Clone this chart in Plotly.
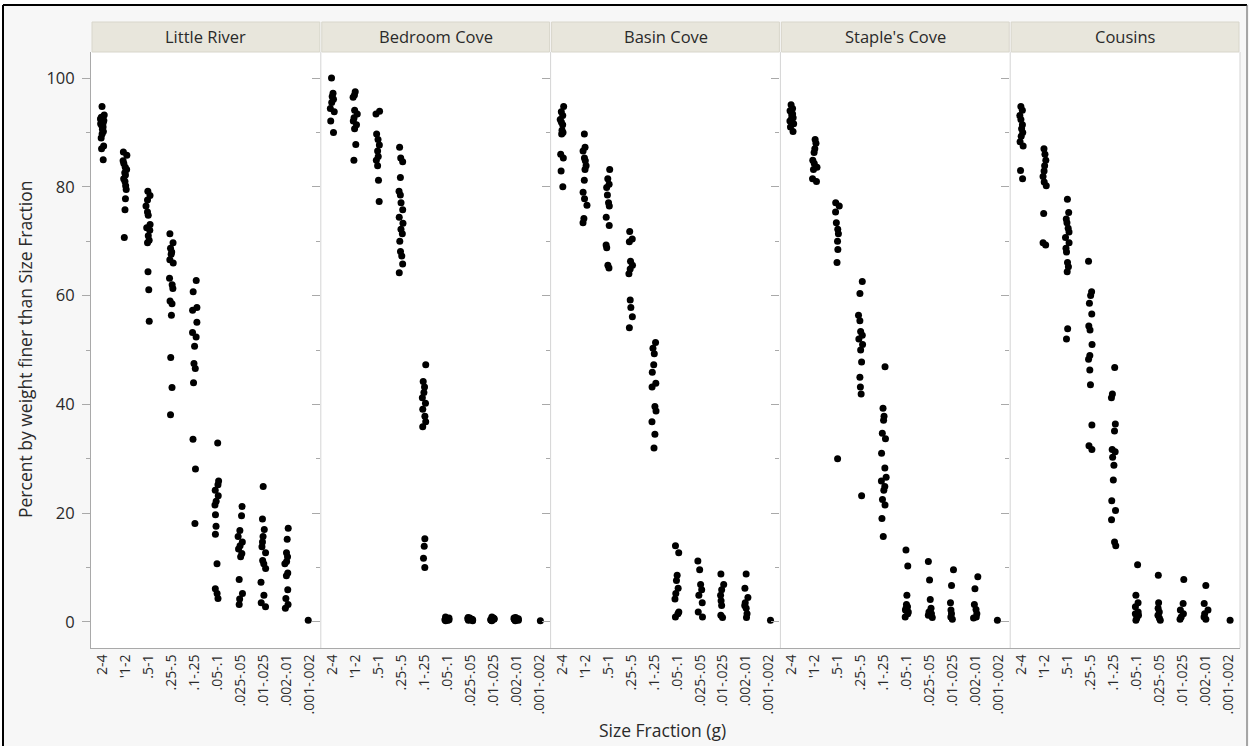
import plotly.graph_objects as go
from plotly.subplots import make_subplots

# ---------------- data ----------------
sites = ["Little River", "Bedroom Cove", "Basin Cove", "Staple's Cove", "Cousins"]
size_fractions = ["2-4", "'1-2", ".5-1", ".25-.5", ".1-.25", ".05-.1",
                  ".025-.05", ".01-.025", ".002-.01", ".001-.002"]

little_river = [
    [94.8, 93.2, 92.8, 92.5, 92.2, 91.9, 91.8, 91.6, 91.3, 91.0, 90.6, 90.2, 89.7, 89.0, 87.5, 87.0, 85.0],
    [86.4, 85.8, 84.8, 84.3, 83.6, 83.2, 82.6, 82.2, 81.5, 81.0, 80.2, 79.5, 77.8, 75.8, 70.7],
    [79.2, 78.4, 77.6, 76.5, 75.4, 74.8, 73.1, 72.5, 72.0, 71.0, 70.2, 69.7, 64.4, 61.1, 55.3],
    [71.4, 69.7, 68.7, 68.0, 67.6, 66.6, 66.0, 63.2, 62.0, 61.3, 59.0, 58.5, 56.4, 48.6, 43.1, 38.1],
    [62.8, 60.7, 57.8, 57.3, 55.1, 53.2, 52.4, 50.7, 47.5, 46.6, 44.0, 33.6, 28.1, 18.1],
    [32.9, 25.9, 25.2, 24.2, 23.2, 22.2, 21.5, 19.7, 17.6, 16.1, 10.7, 6.1, 5.2, 4.3],
    [21.2, 19.5, 16.8, 15.7, 14.7, 14.0, 13.4, 12.6, 12.0, 7.8, 5.2, 4.2, 3.2],
    [24.9, 18.9, 17.0, 15.7, 14.7, 13.8, 12.7, 11.3, 10.7, 9.8, 7.3, 4.9, 3.5, 2.8],
    [17.2, 15.2, 12.7, 12.0, 11.1, 10.7, 9.0, 8.5, 5.9, 4.3, 3.2, 2.5],
    [0.3],
]
bedroom_cove = [
    [100.0, 97.2, 96.6, 96.1, 95.5, 94.4, 93.8, 92.1, 90.0],
    [97.5, 96.9, 96.5, 94.1, 93.4, 92.7, 92.1, 91.4, 90.7, 87.8, 84.9],
    [93.9, 93.4, 89.7, 88.7, 87.7, 86.6, 85.6, 84.9, 83.9, 81.2, 77.3],
    [87.3, 85.3, 84.6, 81.7, 79.2, 78.5, 77.1, 75.8, 74.4, 73.3, 72.2, 71.4, 70.0, 68.1, 67.3, 65.8, 64.2],
    [47.3, 44.2, 43.2, 42.2, 41.2, 40.2, 39.1, 37.8, 36.8, 35.9, 15.3, 13.9, 11.7, 10.0],
    [0.9, 0.7, 0.6, 0.5, 0.4, 0.3, 0.5, 0.6, 0.2, 0.4],
    [0.8, 0.7, 0.6, 0.5, 0.4, 0.3, 0.5, 0.2, 0.6, 0.4],
    [0.9, 0.7, 0.6, 0.5, 0.4, 0.3, 0.5, 0.6, 0.2, 0.4],
    [0.8, 0.7, 0.6, 0.5, 0.4, 0.3, 0.5, 0.6, 0.2, 0.4],
    [0.2],
]
basin_cove = [
    [94.8, 93.8, 93.1, 92.4, 91.9, 91.4, 90.4, 90.0, 89.7, 86.0, 85.3, 82.9, 80.0],
    [89.7, 87.3, 86.6, 85.3, 84.8, 83.9, 83.2, 81.2, 79.0, 77.8, 76.6, 74.2, 73.4],
    [83.2, 81.5, 80.5, 79.9, 78.5, 77.1, 76.5, 74.4, 72.9, 69.3, 68.8, 65.6, 65.1],
    [71.8, 70.4, 69.9, 66.3, 65.6, 64.9, 64.0, 59.2, 57.8, 56.1, 54.1],
    [51.4, 50.3, 49.3, 47.3, 45.9, 43.9, 43.2, 39.6, 38.8, 36.8, 34.5, 32.0],
    [14.0, 12.7, 8.6, 7.6, 6.2, 5.2, 4.2, 1.8, 1.5, 0.9],
    [11.2, 9.6, 6.9, 5.9, 4.9, 3.5, 1.8, 0.9],
    [8.8, 6.9, 5.9, 4.9, 3.9, 3.0, 1.2, 0.8],
    [8.8, 6.2, 4.5, 3.5, 3.0, 2.5, 1.5, 0.8],
    [0.3],
]
staples_cove = [
    [95.1, 94.4, 94.0, 93.8, 93.4, 93.1, 92.7, 92.4, 92.1, 91.6, 91.0, 90.2],
    [88.7, 88.0, 87.0, 86.3, 84.9, 84.3, 83.6, 83.2, 81.5, 81.0],
    [77.1, 76.5, 75.4, 73.4, 72.2, 71.4, 70.0, 68.5, 66.1, 30.0],
    [62.6, 60.4, 56.4, 55.4, 53.4, 52.7, 52.0, 51.0, 50.0, 47.8, 45.0, 43.2, 41.9, 23.2],
    [46.9, 39.3, 37.8, 37.1, 34.7, 33.7, 31.0, 28.3, 26.6, 25.9, 24.9, 24.2, 22.5, 21.5, 19.0, 15.7],
    [13.2, 10.3, 4.9, 3.2, 2.8, 2.5, 2.2, 1.8, 1.5, 0.9],
    [11.1, 7.7, 4.1, 2.5, 1.8, 1.5, 1.2, 0.8],
    [9.6, 6.7, 3.5, 2.2, 1.5, 0.9, 0.5],
    [8.3, 6.1, 3.2, 2.3, 1.5, 0.9, 0.7],
    [0.3],
]
cousins = [
    [94.8, 94.1, 93.1, 92.4, 91.4, 90.7, 90.0, 89.3, 88.3, 87.5, 83.0, 81.5],
    [87.0, 86.0, 84.9, 83.9, 82.9, 81.9, 80.9, 80.2, 75.1, 69.7, 69.3],
    [77.7, 75.3, 74.1, 73.4, 72.4, 71.7, 70.7, 69.7, 68.7, 68.0, 66.1, 65.3, 64.4, 53.9, 52.0],
    [66.3, 60.7, 60.0, 58.6, 56.6, 54.4, 53.7, 51.0, 49.0, 48.3, 46.3, 43.6, 36.2, 32.4, 31.7],
    [46.8, 41.9, 41.2, 36.4, 35.1, 31.7, 31.3, 30.3, 28.8, 26.1, 22.3, 20.5, 18.8, 14.7, 14.0],
    [10.5, 4.9, 3.5, 2.8, 1.8, 1.5, 1.2, 0.7, 0.3],
    [8.6, 3.5, 2.5, 1.8, 1.2, 0.7, 0.3],
    [7.8, 3.4, 2.2, 1.5, 0.9, 0.5],
    [6.7, 3.4, 2.2, 1.5, 0.9, 0.5],
    [0.3],
]
site_data = [little_river, bedroom_cove, basin_cove, staples_cove, cousins]

y_title = "Percent by weight finer than Size Fraction"
x_title = "Size Fraction (g)"
y_ticks = [0, 20, 40, 60, 80, 100]
y_minor_ticks = [10, 30, 50, 70, 90]

# ---------------- geometry (pixels) ----------------
W, H = 1249, 746
ML, MR, MT, MB = 91, 9, 52, 98
PW, PH = W - ML - MR, H - MT - MB

def px_x(p):
    return (p - ML) / PW

def px_y(p):
    return (H - MB - p) / PH

FONT = "Segoe UI, Open Sans, Noto Sans, sans-serif"
TXT = "#2a2a2a"

fig = make_subplots(rows=1, cols=5, shared_yaxes=True, horizontal_spacing=0)

for i, (site, data) in enumerate(zip(sites, site_data)):
    xs, ys = [], []
    for cat, vals in zip(size_fractions, data):
        xs += [cat] * len(vals)
        ys += vals
    fig.add_trace(
        go.Box(
            x=xs, y=ys, name=site,
            boxpoints="all", jitter=0.45, pointpos=0,
            fillcolor="rgba(0,0,0,0)",
            line=dict(color="rgba(0,0,0,0)", width=0),
            whiskerwidth=0,
            marker=dict(color="black", size=7, line=dict(width=0)),
            hoveron="points",
            showlegend=False,
        ),
        row=1, col=i + 1,
    )
    fig.update_xaxes(
        type="category", categoryorder="array", categoryarray=size_fractions,
        range=[-0.5, 9.5], tickangle=-90, ticks="",
        tickfont=dict(family=FONT, size=14, color=TXT),
        showgrid=False, zeroline=False,
        showline=True, linecolor="#a9a9a9", linewidth=1,
        fixedrange=True,
        row=1, col=i + 1,
    )

fig.update_yaxes(
    range=[-4.8, 104.8], tickvals=y_ticks, ticks="outside", ticklen=8,
    tickcolor="#a9a9a9", tickwidth=1, ticklabelstandoff=4,
    minor=dict(tickvals=y_minor_ticks, ticks="outside", ticklen=4,
               tickcolor="#a9a9a9"),
    tickfont=dict(family=FONT, size=16.5, color=TXT),
    showgrid=False, zeroline=False, fixedrange=True,
)
fig.update_yaxes(showline=True, linecolor="#a9a9a9", linewidth=1, row=1, col=1)

shapes = []
annotations = []
for i, site in enumerate(sites):
    dom = fig.layout[f"xaxis{'' if i == 0 else i + 1}"].domain
    x0, x1 = dom[0], dom[1]
    if i > 0:
        shapes.append(dict(type="line", xref="paper", yref="paper",
                           x0=x0, x1=x0, y0=0, y1=1,
                           line=dict(color="#d4d4d4", width=1)))
    shapes.append(dict(type="rect", xref="paper", yref="paper",
                       x0=x0 + 1 / PW, x1=x1 - 1 / PW, y0=1, y1=px_y(22),
                       fillcolor="#e8e6dc", line=dict(color="#d8d6cb", width=1)))
    annotations.append(dict(text=site, xref="paper", yref="paper",
                            x=(x0 + x1) / 2, y=(1 + px_y(22)) / 2,
                            xanchor="center", yanchor="middle", showarrow=False,
                            font=dict(family=FONT, size=16.5, color=TXT)))
shapes.append(dict(type="line", xref="paper", yref="paper", x0=1, x1=1, y0=0, y1=1,
                   line=dict(color="#d4d4d4", width=1)))

# outer frame
shapes.append(dict(type="rect", xref="paper", yref="paper",
                   x0=px_x(0), x1=px_x(W), y0=px_y(0), y1=px_y(4),
                   fillcolor="white", line=dict(width=0), layer="below"))
shapes.append(dict(type="rect", xref="paper", yref="paper",
                   x0=px_x(0), x1=px_x(2), y0=px_y(H), y1=px_y(0),
                   fillcolor="white", line=dict(width=0), layer="below"))
shapes.append(dict(type="line", xref="paper", yref="paper",
                   x0=px_x(3), x1=px_x(1247), y0=px_y(5), y1=px_y(5),
                   line=dict(color="black", width=2)))
shapes.append(dict(type="line", xref="paper", yref="paper",
                   x0=px_x(3), x1=px_x(3), y0=px_y(5), y1=px_y(H),
                   line=dict(color="black", width=2)))
shapes.append(dict(type="line", xref="paper", yref="paper",
                   x0=px_x(1247), x1=px_x(1247), y0=px_y(5), y1=px_y(H),
                   line=dict(color="#555555", width=1)))

annotations.append(dict(text=y_title, xref="paper", yref="paper",
                        x=px_x(25), y=0.5, textangle=-90,
                        xanchor="center", yanchor="middle", showarrow=False,
                        font=dict(family=FONT, size=17.5, color=TXT)))
annotations.append(dict(text=x_title, xref="paper", yref="paper",
                        x=px_x(662), y=px_y(730),
                        xanchor="center", yanchor="middle", showarrow=False,
                        font=dict(family=FONT, size=17.5, color=TXT)))

fig.update_layout(
    width=W, height=H,
    margin=dict(l=ML, r=MR, t=MT, b=MB, pad=0),
    paper_bgcolor="#f7f7f7",
    plot_bgcolor="white",
    shapes=shapes,
    annotations=annotations,
    showlegend=False,
    boxmode="overlay",
)

fig.write_html("out.html", config={"displayModeBar": False},
               post_script="document.body.style.margin='0';")
